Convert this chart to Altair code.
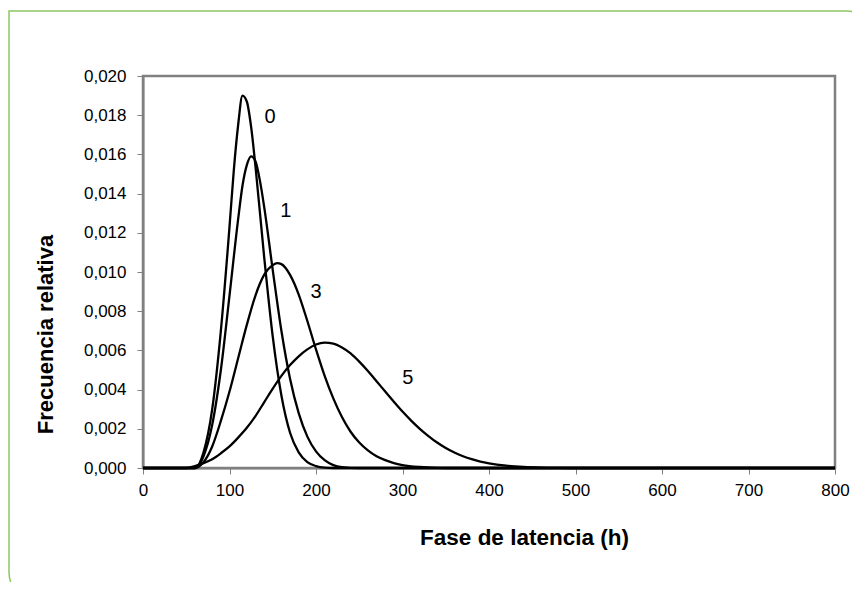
import altair as alt
import pandas as pd

# ---- data (relative frequency) ----
x0 = [0, 60, 70, 80, 90, 100, 105, 110, 115, 120, 125, 130, 140, 150, 160, 170, 180, 190, 200, 210, 220, 800]
y0 = [0, 0, 0.0008, 0.0030, 0.0070, 0.0123, 0.0152, 0.0175, 0.0190, 0.0187, 0.0174, 0.0154, 0.0108,
      0.0067, 0.0037, 0.0018, 0.0008, 0.0003, 0.0001, 0.00002, 0, 0]

x1 = [0, 60, 70, 80, 90, 100, 110, 115, 120, 125, 130, 135, 140, 150, 160, 170, 180, 190, 200, 210,
      220, 230, 250, 800]
y1 = [0, 0, 0.0006, 0.0022, 0.0050, 0.0088, 0.0127, 0.0144, 0.01545, 0.0159, 0.01565, 0.0147, 0.01335,
      0.0101, 0.0070, 0.00455, 0.0028, 0.0016, 0.00085, 0.0004, 0.00015, 0.00005, 0, 0]

x3 = [0, 60, 70, 80, 90, 100, 110, 120, 130, 140, 150, 155, 160, 170, 180, 190, 200, 210, 220, 230,
      240, 250, 260, 270, 280, 290, 300, 320, 340, 360, 800]
y3 = [0, 0, 0.0003, 0.0011, 0.0024, 0.0039, 0.0056, 0.0073, 0.0088, 0.00985, 0.01035, 0.01045, 0.0104,
      0.00985, 0.00885, 0.0075, 0.00605, 0.0047, 0.00355, 0.0026, 0.00185, 0.0013, 0.0009, 0.0006,
      0.0004, 0.00025, 0.00015, 0.00005, 0.00001, 0, 0]

x5 = [0, 50, 60, 70, 80, 90, 100, 110, 120, 130, 140, 150, 160, 170, 180, 190, 200, 210, 220, 230, 240,
      250, 260, 270, 280, 290, 300, 310, 320, 330, 340, 350, 360, 370, 380, 390, 400, 420, 440, 460,
      480, 500, 800]
y5 = [0, 0, 0.0001, 0.00025, 0.00045, 0.00075, 0.0011, 0.00155, 0.00205, 0.00265, 0.00335, 0.00405,
      0.0047, 0.00525, 0.0057, 0.00605, 0.0063, 0.0064, 0.00635, 0.00615, 0.00585, 0.00543, 0.00495,
      0.00443, 0.0039, 0.00338, 0.00288, 0.00242, 0.0020, 0.00163, 0.0013, 0.00102, 0.00079, 0.0006,
      0.00045, 0.00033, 0.00024, 0.00012, 0.000055, 0.000022, 0.000007, 0, 0]

series_names = ["0", "1", "3", "5"]
label_x = [147, 165, 200, 306]
label_y = [0.0179, 0.0131, 0.0090, 0.0046]

x_ticks = [0, 100, 200, 300, 400, 500, 600, 700, 800]
y_ticks = [0, 0.002, 0.004, 0.006, 0.008, 0.010, 0.012, 0.014, 0.016, 0.018, 0.020]

rows = []
for name, xs, ys in zip(series_names, [x0, x1, x3, x5], [y0, y1, y3, y5]):
    for i, (a, b) in enumerate(zip(xs, ys)):
        rows.append({"serie": name, "x": a, "y": b, "i": i})
df = pd.DataFrame(rows)
labels = pd.DataFrame({"serie": series_names, "x": label_x, "y": label_y})

W, H = 692, 392
FONT = "Liberation Sans"

xscale = alt.Scale(domain=[0, 800], nice=False, zero=False)
yscale = alt.Scale(domain=[0, 0.020], nice=False)

x_axis = alt.Axis(
    values=x_ticks, tickCount=20, title="Fase de latencia (h)", grid=False, labelFlush=False,
    labelOverlap=False,
    titleX=381, titleY=69, titleBaseline="middle",
    titleFontSize=22.5, titleFontWeight="bold", titleFont=FONT, titleColor="black",
    labelFontSize=17, labelFont=FONT, labelColor="black", labelPadding=8,
    tickSize=6, tickColor="#808080", domainColor="#808080", domainWidth=2,
)
y_axis = alt.Axis(
    values=y_ticks, tickCount=20, title="Frecuencia relativa", grid=False, labelOverlap=False,
    labelFlush=False,
    labelExpr="replace(format(datum.value, '.3f'), '.', ',')",
    titleX=-98, titleY=258, titleAngle=-90, titleAlign="center", titleBaseline="middle",
    titleFontSize=22, titleFontWeight="bold", titleFont=FONT, titleColor="black",
    labelFontSize=17, labelFont=FONT, labelColor="black", labelPadding=11,
    tickSize=6, tickColor="#808080", domainColor="#808080", domainWidth=2,
)

lines = alt.Chart(df).mark_line(
    color="black", strokeWidth=2.3, interpolate="monotone"
).encode(
    x=alt.X("x:Q", scale=xscale, axis=x_axis),
    y=alt.Y("y:Q", scale=yscale, axis=y_axis),
    detail="serie:N",
    order="i:Q",
)

texts = alt.Chart(labels).mark_text(
    font=FONT, fontSize=20, color="black", align="center", baseline="middle"
).encode(
    x=alt.X("x:Q", scale=xscale, axis=x_axis),
    y=alt.Y("y:Q", scale=yscale, axis=y_axis),
    text="serie:N",
)

frame = alt.Chart(pd.DataFrame({"a": [0]})).mark_rect(
    fill=None, fillOpacity=0, stroke="#8CC860", strokeWidth=1.5,
    cornerRadiusTopRight=22, cornerRadiusBottomLeft=30,
).encode(
    x=alt.value(-134), x2=alt.value(726),
    y=alt.value(-65), y2=alt.value(526),
)

chart = alt.layer(frame, lines, texts).properties(
    width=W, height=H,
    autosize=alt.AutoSizeParams(type="none"),
    padding={"left": 135, "top": 68, "right": 17, "bottom": 114},
    background="white",
).configure_view(
    stroke="#808080", strokeWidth=2.5
)

chart.save("out.html", embed_options={"renderer": "svg", "actions": False})
